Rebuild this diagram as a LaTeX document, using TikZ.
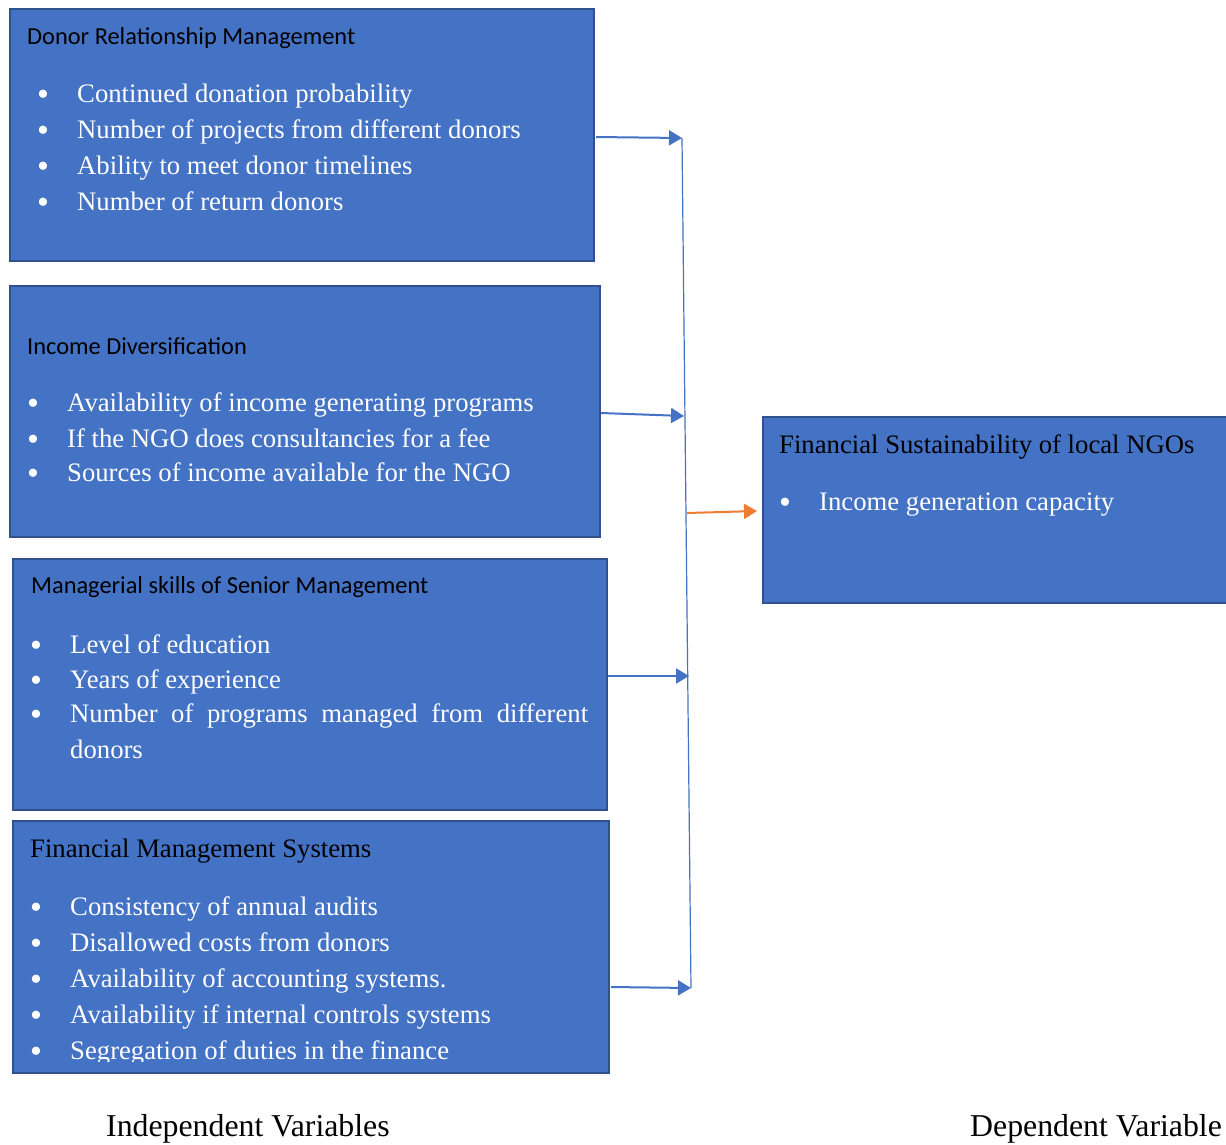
\documentclass[tikz,border=0pt]{standalone}
\usepackage{fontspec}
\setmainfont{Liberation Serif}
\newfontfamily\calfont{Carlito}
\usetikzlibrary{arrows.meta}
\definecolor{boxfill}{HTML}{4472C4}
\definecolor{boxline}{HTML}{2F528F}
\definecolor{arrblue}{HTML}{4472C4}
\definecolor{arrorange}{HTML}{ED7D31}
\begin{document}
\begin{tikzpicture}[x=1pt,y=-1pt,
  box/.style={draw=boxline, line width=1.6pt, fill=boxfill, rectangle, inner sep=0pt, anchor=north west},
  ttl/.style={anchor=base west, inner sep=0pt, text=black, font=\calfont\fontsize{24.4}{29}\selectfont},
  ttlserif/.style={anchor=base west, inner sep=0pt, text=black, font=\fontsize{26.7}{32}\selectfont},
  item/.style={anchor=base west, inner sep=0pt, text=white, font=\fontsize{26.7}{32}\selectfont},
  bul/.style={anchor=base, inner sep=0pt, text=white, font=\fontsize{34}{36}\selectfont, yshift=-3pt},
  lbl/.style={anchor=base west, inner sep=0pt, text=black, font=\fontsize{31.8}{38}\selectfont},
  arr/.style={draw=arrblue, line width=2pt, -{Triangle[length=13pt,width=15pt]}},
  oarr/.style={draw=arrorange, line width=2pt, -{Triangle[length=13pt,width=15pt]}},
  vline/.style={draw=arrblue, line width=1.2pt}
]
\useasboundingbox (0,0) rectangle (1226,1144);

% boxes
\node[box, minimum width=584pt, minimum height=252pt] (b1) at (9,8) {};
\node[box, minimum width=590pt, minimum height=251pt] (b2) at (9,285) {};
\node[box, minimum width=594pt, minimum height=251pt] (b3) at (12,558) {};
\node[box, minimum width=596pt, minimum height=252pt] (b4) at (12,820) {};
\node[box, minimum width=465pt, minimum height=186pt] (b5) at (762,416) {};

% box 1
\node[ttl] (t1) at (27,44) {Donor Relationship Management};
\node[bul] (t1b1) at (43,102) {•};
\node[item] (t1i1) at (77,102) {Continued donation probability};
\node[bul] (t1b2) at (43,138) {•};
\node[item] (t1i2) at (77,138) {Number of projects from different donors};
\node[bul] (t1b3) at (43,174) {•};
\node[item] (t1i3) at (77,174) {Ability to meet donor timelines};
\node[bul] (t1b4) at (43,210) {•};
\node[item] (t1i4) at (77,210) {Number of return donors};

% box 2
\node[ttl] (t2) at (27,354) {Income Diversification};
\node[bul] (t2b1) at (33,411) {•};
\node[item] (t2i1) at (67,411) {Availability of income generating programs};
\node[bul] (t2b2) at (33,447) {•};
\node[item] (t2i2) at (67,447) {If the NGO does consultancies for a fee};
\node[bul] (t2b3) at (33,481) {•};
\node[item] (t2i3) at (67,481) {Sources of income available for the NGO};

% box 3
\node[ttl] (t3) at (31,593) {Managerial skills of Senior Management};
\node[bul] (t3b1) at (36,653) {•};
\node[item] (t3i1) at (70,653) {Level of education};
\node[bul] (t3b2) at (36,688) {•};
\node[item] (t3i2) at (70,688) {Years of experience};
\node[bul] (t3b3) at (36,722) {•};
\node[item] (t3i3) at (70,722) {\makebox[518pt][s]{Number of programs managed from different}};
\node[item] (t3i4) at (70,758) {donors};

% box 4
\node[ttlserif] (t4) at (30,857) {Financial Management Systems};
\node[bul] (t4b1) at (36,915) {•};
\node[item] (t4i1) at (70,915) {Consistency of annual audits};
\node[bul] (t4b2) at (36,951) {•};
\node[item] (t4i2) at (70,951) {Disallowed costs from donors};
\node[bul] (t4b3) at (36,987) {•};
\node[item] (t4i3) at (70,987) {Availability of accounting systems.};
\node[bul] (t4b4) at (36,1023) {•};
\node[item] (t4i4) at (70,1023) {Availability if internal controls systems};
\node[bul] (t4b5) at (36,1059) {•};
\begin{scope}
\clip (13,821) rectangle (607,1061);
\node[item] (t4i5) at (70,1059) {Segregation of duties in the finance};
\end{scope}

% right box
\node[ttlserif] (t5) at (779,453) {Financial Sustainability of local NGOs};
\node[bul] (t5b1) at (785,510) {•};
\node[item] (t5i1) at (819,510) {Income generation capacity};

% labels
\node[lbl] (l1) at (106,1136) {Independent Variables};
\node[lbl] (l2) at (970,1136) {Dependent Variable};

% connectors
\coordinate (s1) at (596,137);
\coordinate (s2) at (601,413);
\coordinate (s3) at (608,676);
\coordinate (s4) at (611,987);
\coordinate (j1) at (682,138);
\coordinate (j2) at (684,416);
\coordinate (j3) at (689,676);
\coordinate (j4) at (691,988);
\coordinate (so) at (687,513);
\coordinate (eo) at (757,511);

\draw[vline] (j1) -- (j4);
\draw[arr] (s1) -- (j1);
\draw[arr] (s2) -- (j2);
\draw[arr] (s3) -- (j3);
\draw[arr] (s4) -- (j4);
\draw[oarr] (so) -- (eo);
\end{tikzpicture}
\end{document}
